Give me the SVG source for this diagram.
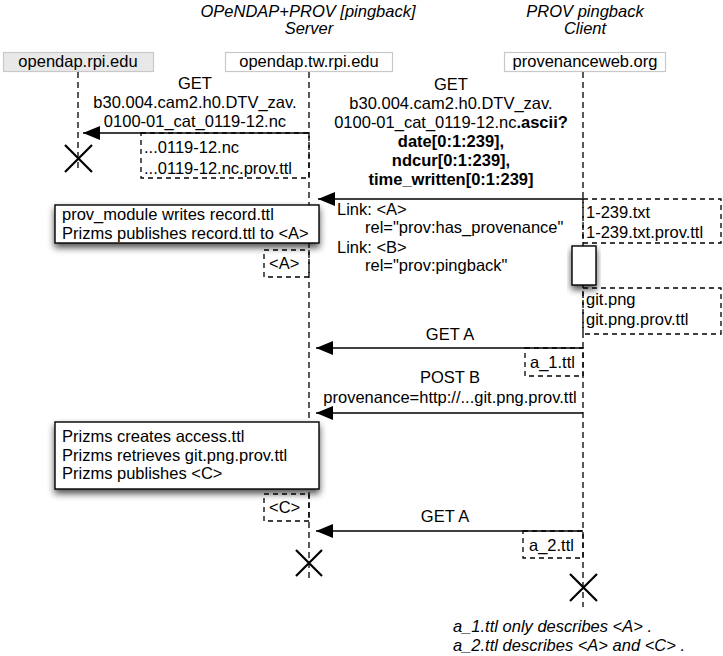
<svg xmlns="http://www.w3.org/2000/svg" width="723" height="656" viewBox="0 0 723 656">
<style>
text{font-family:"Liberation Sans",Arial,sans-serif;font-size:16.5px;fill:#000}
.it{font-style:italic}
.b{font-weight:bold}
.mid{text-anchor:middle}
.hdr{stroke:#c8c8c8;stroke-width:1.2}
.life{stroke:#000;stroke-width:1.3;stroke-dasharray:6,4;fill:none}
.dbox{stroke:#000;stroke-width:1.3;stroke-dasharray:5,4;fill:none}
.msg{stroke:#000;stroke-width:1.4;fill:none}
.note{fill:#fff;stroke:#000;stroke-width:1.4}
.x{stroke:#000;stroke-width:2.2}
</style>
<defs>
<marker id="ah" markerUnits="userSpaceOnUse" markerWidth="18" markerHeight="16" refX="17" refY="7" orient="auto">
<path d="M0,0 L17,7 L0,14 Z" fill="#000"/>
</marker>
<filter id="sh" x="-20%" y="-30%" width="140%" height="180%">
<feGaussianBlur in="SourceAlpha" stdDeviation="3.5"/>
<feOffset dx="0" dy="4" result="o"/>
<feComponentTransfer><feFuncA type="linear" slope="0.7"/></feComponentTransfer>
<feMerge><feMergeNode/><feMergeNode in="SourceGraphic"/></feMerge>
</filter>
</defs>

<g id="titles">
<text class="it mid" x="308" y="17">OPeNDAP+PROV [pingback]</text>
<text class="it mid" x="309" y="34">Server</text>
<text class="it mid" x="585" y="17">PROV pingback</text>
<text class="it mid" x="585" y="34">Client</text>
</g>

<g id="node-opendap-rpi">
<rect class="hdr" x="3.5" y="52.5" width="150" height="19" fill="#e8e8e8"/>
<text class="mid" x="78" y="67">opendap.rpi.edu</text>
<line class="life" x1="78" y1="72" x2="78" y2="172"/>
<path class="x" d="M65,145 L92,172 M92,145 L65,172"/>
</g>

<g id="node-opendap-tw">
<rect class="hdr" x="225.5" y="52.5" width="167" height="19" fill="#fff"/>
<text class="mid" x="309" y="67">opendap.tw.rpi.edu</text>
<line class="life" x1="309" y1="72" x2="309" y2="580"/>
<path class="x" d="M296,550 L322,576 M322,550 L296,576"/>
</g>

<g id="node-provenanceweb">
<rect class="hdr" x="504.5" y="52.5" width="161" height="19" fill="#fff"/>
<text class="mid" x="585" y="67">provenanceweb.org</text>
<line class="life" x1="583" y1="72" x2="583" y2="607"/>
<path class="x" d="M570,574 L597,601 M597,574 L570,601"/>
</g>

<g id="connectors">
<line class="msg" x1="309" y1="133" x2="83" y2="133" marker-end="url(#ah)"/>
<line class="msg" x1="583" y1="199" x2="318" y2="199" marker-end="url(#ah)"/>
<line class="msg" x1="583" y1="348" x2="316" y2="348" marker-end="url(#ah)"/>
<line class="msg" x1="583" y1="413" x2="316" y2="413" marker-end="url(#ah)"/>
<line class="msg" x1="583" y1="531" x2="316" y2="531" marker-end="url(#ah)"/>
</g>

<g id="msg1-label">
<text class="mid" x="195" y="89">GET</text>
<text class="mid" x="195" y="108">b30.004.cam2.h0.DTV_zav.</text>
<text class="mid" x="195" y="127">0100-01_cat_0119-12.nc</text>
</g>
<g id="return1">
<rect class="dbox" x="141" y="133" width="168" height="45"/>
<text x="144" y="153">...0119-12.nc</text>
<text x="144" y="174">...0119-12.nc.prov.ttl</text>
</g>

<g id="msg2-label">
<text class="mid" x="451" y="90">GET</text>
<text class="mid" x="451" y="109">b30.004.cam2.h0.DTV_zav.</text>
<text class="mid" x="451" y="128">0100-01_cat_0119-12.nc<tspan class="b">.ascii?</tspan></text>
<text class="mid b" x="451" y="147">date[0:1:239],</text>
<text class="mid b" x="451" y="166">ndcur[0:1:239],</text>
<text class="mid b" x="451" y="185">time_written[0:1:239]</text>
</g>

<g id="link-label">
<text x="337" y="215">Link: &lt;A&gt;</text>
<text x="365" y="233">rel="prov:has_provenance"</text>
<text x="337" y="253">Link: &lt;B&gt;</text>
<text x="365" y="271">rel="prov:pingback"</text>
</g>

<g id="client-files1">
<rect class="dbox" x="583" y="199" width="138" height="44"/>
<text x="586" y="218">1-239.txt</text>
<text x="586" y="238">1-239.txt.prov.ttl</text>
</g>

<g id="activation">
<rect x="572" y="246" width="24" height="39" fill="#fff" stroke="#000" stroke-width="1.4" filter="url(#sh)"/>
</g>

<g id="client-files2">
<rect class="dbox" x="583" y="288" width="138" height="46"/>
<text x="586" y="305">git.png</text>
<text x="586" y="325">git.png.prov.ttl</text>
</g>

<g id="note1">
<rect class="note" x="55" y="205" width="264" height="38" filter="url(#sh)"/>
<text x="62" y="220">prov_module writes record.ttl</text>
<text x="62" y="239">Prizms publishes record.ttl to &lt;A&gt;</text>
</g>

<g id="boxA">
<rect class="dbox" x="264" y="250" width="45" height="27"/>
<text x="269" y="269">&lt;A&gt;</text>
</g>

<g id="getA1">
<text class="mid" x="450" y="340">GET A</text>
<rect class="dbox" x="525" y="348" width="58" height="28"/>
<text x="530" y="368">a_1.ttl</text>
</g>

<g id="postB">
<text class="mid" x="450" y="383">POST B</text>
<text class="mid" x="450" y="403">provenance=http://...git.png.prov.ttl</text>
</g>

<g id="note2">
<rect class="note" x="55" y="422" width="264" height="67" filter="url(#sh)"/>
<text x="62" y="442">Prizms creates access.ttl</text>
<text x="62" y="461">Prizms retrieves git.png.prov.ttl</text>
<text x="62" y="479">Prizms publishes &lt;C&gt;</text>
</g>

<g id="boxC">
<rect class="dbox" x="264" y="494" width="45" height="27"/>
<text x="269" y="513">&lt;C&gt;</text>
</g>

<g id="getA2">
<text class="mid" x="445" y="522">GET A</text>
<rect class="dbox" x="523" y="531" width="60" height="27"/>
<text x="529" y="551">a_2.ttl</text>
</g>

<g id="footnote">
<text class="it" x="453" y="632">a_1.ttl only describes &lt;A&gt; .</text>
<text class="it" x="453" y="651">a_2.ttl describes &lt;A&gt; and &lt;C&gt; .</text>
</g>
</svg>
